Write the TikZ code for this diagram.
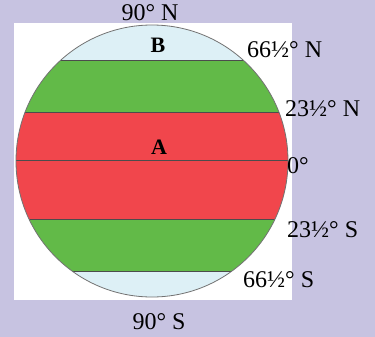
\documentclass[tikz,border=0pt]{standalone}
\usepackage{fontspec}
\setmainfont{Liberation Serif}
\definecolor{lavender}{RGB}{199,195,225}
\definecolor{capblue}{RGB}{221,240,246}
\definecolor{zonegreen}{RGB}{98,186,72}
\definecolor{zonered}{RGB}{241,70,76}
\tikzset{
  lat/.style={
    inner sep = 0pt,
    font = \fontsize{24}{25}\selectfont
  },
  zone/.style={
    inner sep = 0pt,
    font = \fontsize{22}{23}\selectfont\bfseries
  },
  chord/.style={
    draw = black!70,
    line width = 1pt
  },
  rim/.style={
    draw = black!55,
    line width = 0.8pt
  },
}
\begin{document}
\begin{tikzpicture}[x=1pt,y=-1pt]
\useasboundingbox (0,0) rectangle (375,337);
\fill[lavender] (0,0) rectangle (375,337);
\fill[white] (14,23) rectangle (292,300);
\coordinate (c) at (152,161);
\begin{scope}
  \clip (c) circle[radius=136];
  \fill[capblue] (0,0) rectangle (375,61);
  \fill[zonegreen] (0,61) rectangle (375,112);
  \fill[zonered] (0,112) rectangle (375,219);
  \fill[zonegreen] (0,219) rectangle (375,271);
  \fill[capblue] (0,271) rectangle (375,337);
  \foreach \y in {61,112,160,219,271}{
    \draw[chord] (0,\y) -- (375,\y); }
\end{scope}
\draw[rim] (c) circle[radius=136];
% zones
\node[zone, anchor=base] (B) at (158,53) {B};
\node[zone, anchor=base] (A) at (159,154) {A};
% latitudes
\node[lat, anchor=base] (np) at (150,21) {90° N};
\node[lat, anchor=base west] (arcN) at (247,58) {66½° N};
\node[lat, anchor=base west] (trN) at (285,117) {23½° N};
\node[lat, anchor=base west] (eq) at (287,173) {0°};
\node[lat, anchor=base west] (trS) at (287,237) {23½° S};
\node[lat, anchor=base west] (arcS) at (243,287) {66½° S};
\node[lat, anchor=base] (sp) at (159,329) {90° S};
\end{tikzpicture}
\end{document}
